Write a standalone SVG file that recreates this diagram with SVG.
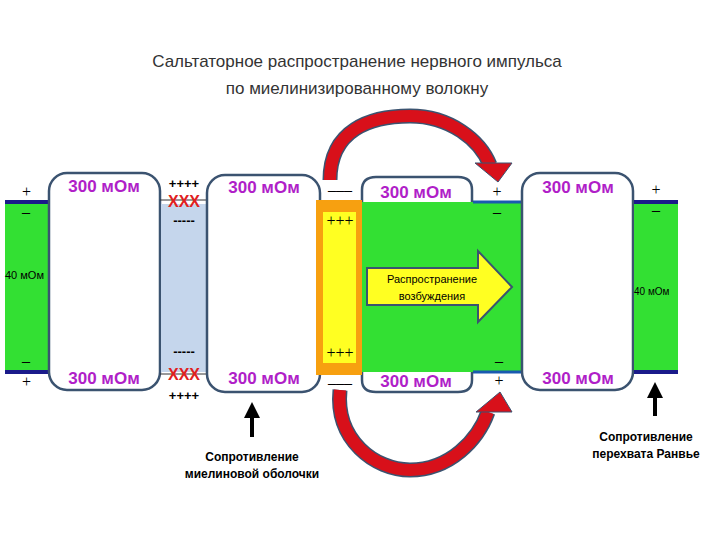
<svg xmlns="http://www.w3.org/2000/svg" width="720" height="540" viewBox="0 0 720 540">
<style>
text{font-family:"Liberation Sans",Arial,sans-serif}
.box{fill:#fff;stroke:#3b5370;stroke-width:2.5}
.ohm{font-size:17px;font-weight:bold;fill:#b01ec8}
.sg{font-size:16px;fill:#000;font-family:"Liberation Serif",serif}
.x{font-size:16px;font-weight:bold;fill:#e02020}
.g{fill:#33e033}
.bl{stroke:#1a1a8a;stroke-width:4}
.lbl{font-size:12px;fill:#000;font-weight:bold}
</style>
<defs>
<marker id="ah" markerWidth="4" markerHeight="4" refX="2" refY="2" orient="auto" markerUnits="strokeWidth"><path d="M0,0 L4,2 L0,4 Z" fill="#000"/></marker>
</defs>
<rect width="720" height="540" fill="#fff"/>
<g id="title"><text x="357" y="67" text-anchor="middle" font-size="17" fill="#333">Сальтаторное распространение нервного импульса</text>
<text x="357" y="94" text-anchor="middle" font-size="17" fill="#333">по миелинизированному волокну</text></g>
<g id="greenLeft"><rect class="g" x="5" y="202" width="47" height="170"/><line class="bl" x1="5" y1="202" x2="50" y2="202"/><line class="bl" x1="5" y1="372" x2="50" y2="372"/>
<text x="5" y="279" font-size="11">40 мОм</text><text class="sg" x="22" y="197">+</text><text class="sg" x="22" y="217">–</text><text class="sg" x="22" y="366">–</text><text class="sg" x="22" y="387">+</text></g>
<g id="node1"><rect class="box" x="49" y="173" width="111" height="217" rx="18"/><text class="ohm" x="104" y="192" text-anchor="middle">300 мОм</text><text class="ohm" x="104" y="384" text-anchor="middle">300 мОм</text></g>
<g id="gap1"><rect x="161" y="204" width="46" height="168" fill="#c5d6ec"/><line x1="160" y1="200" x2="207" y2="200" stroke="#333"/><line x1="160" y1="374" x2="207" y2="374" stroke="#333"/>
<text x="184" y="188" text-anchor="middle" font-size="13" font-weight="bold">++++</text><text class="x" x="184" y="207" text-anchor="middle">XXX</text><text x="184" y="225" text-anchor="middle" font-size="13" font-weight="bold">-----</text>
<text x="184" y="356" text-anchor="middle" font-size="13" font-weight="bold">-----</text><text class="x" x="184" y="380" text-anchor="middle">XXX</text><text x="184" y="400" text-anchor="middle" font-size="13" font-weight="bold">++++</text></g>
<g id="node2"><rect class="box" x="207" y="175" width="113" height="217" rx="18"/><text class="ohm" x="264" y="193" text-anchor="middle">300 мОм</text><text class="ohm" x="264" y="384" text-anchor="middle">300 мОм</text></g>
<g id="greenMid"><rect class="g" x="360" y="202" width="162" height="171"/><line x1="473" y1="202" x2="522" y2="202" stroke="#1a5ab0" stroke-width="3"/><line x1="473" y1="372" x2="522" y2="372" stroke="#1a5ab0" stroke-width="3"/>
<path class="box" d="M362,202 V190 Q362,177 376,177 H458 Q472,177 472,190 V202"/>
<path class="box" d="M362,372 V380 Q362,392 376,392 H458 Q472,392 472,380 V372"/>
<text class="ohm" x="416" y="198" text-anchor="middle">300 мОм</text><text class="ohm" x="416" y="387" text-anchor="middle">300 мОм</text>
<text class="sg" x="497" y="197" text-anchor="middle">+</text><text class="sg" x="497" y="217" text-anchor="middle">–</text><text class="sg" x="499" y="366" text-anchor="middle">–</text><text class="sg" x="499" y="386" text-anchor="middle">+</text></g>
<g id="node_active"><rect x="316" y="200" width="46" height="175" fill="#f7a010"/><rect x="323" y="212" width="33" height="151" fill="#ffff22"/>
<text class="sg" x="340" y="195" text-anchor="middle">–––</text><text class="sg" x="340" y="226" text-anchor="middle">+++</text><text class="sg" x="340" y="358" text-anchor="middle">+++</text><text class="sg" x="340" y="388" text-anchor="middle">–––</text></g>
<g id="arrowExc"><path d="M367,268 H478 V251 L512,287 L478,322 V305 H367 Z" fill="#ffff22" stroke="#3b5370" stroke-width="2"/>
<text x="432" y="283" text-anchor="middle" font-size="11">Распространение</text><text x="432" y="300" text-anchor="middle" font-size="11">возбуждения</text></g>
<g id="node4"><rect class="box" x="522" y="173" width="111" height="217" rx="18"/><text class="ohm" x="578" y="193" text-anchor="middle">300 мОм</text><text class="ohm" x="578" y="384" text-anchor="middle">300 мОм</text></g>
<g id="greenRight"><rect class="g" x="634" y="202" width="44" height="170"/><line class="bl" x1="634" y1="202" x2="678" y2="202"/><line class="bl" x1="634" y1="372" x2="678" y2="372"/>
<text x="634" y="295" font-size="10">40 мОм</text><text class="sg" x="656" y="195" text-anchor="middle">+</text><text class="sg" x="656" y="215" text-anchor="middle">–</text></g>
<g id="connectors">
<path d="M330,180 C330,130 370,116 410,116 C450,116 480,140 490,165" fill="none" stroke="#3b5370" stroke-width="15"/>
<path d="M330,180 C330,130 370,116 410,116 C450,116 480,140 490,165" fill="none" stroke="#d8101a" stroke-width="12"/>
<path d="M475,163 L512,163 L498,182 Z" fill="#d8101a" stroke="#3b5370" stroke-width="1"/>
<path d="M340,390 C335,440 375,470 410,470 C450,470 478,440 488,412" fill="none" stroke="#3b5370" stroke-width="15"/>
<path d="M340,390 C335,440 375,470 410,470 C450,470 478,440 488,412" fill="none" stroke="#d8101a" stroke-width="12"/>
<path d="M476,412 L512,412 L500,392 Z" fill="#d8101a" stroke="#3b5370" stroke-width="1"/>
<line x1="252" y1="437" x2="252" y2="410" stroke="#000" stroke-width="4" marker-end="url(#ah)"/>
<line x1="655" y1="416" x2="655" y2="390" stroke="#000" stroke-width="4" marker-end="url(#ah)"/>
</g>
<g id="labels"><text class="lbl" x="252" y="461" text-anchor="middle">Сопротивление</text><text class="lbl" x="252" y="478" text-anchor="middle">миелиновой оболочки</text>
<text class="lbl" x="646" y="441" text-anchor="middle">Сопротивление</text><text class="lbl" x="646" y="458" text-anchor="middle">перехвата Ранвье</text></g>
</svg>
